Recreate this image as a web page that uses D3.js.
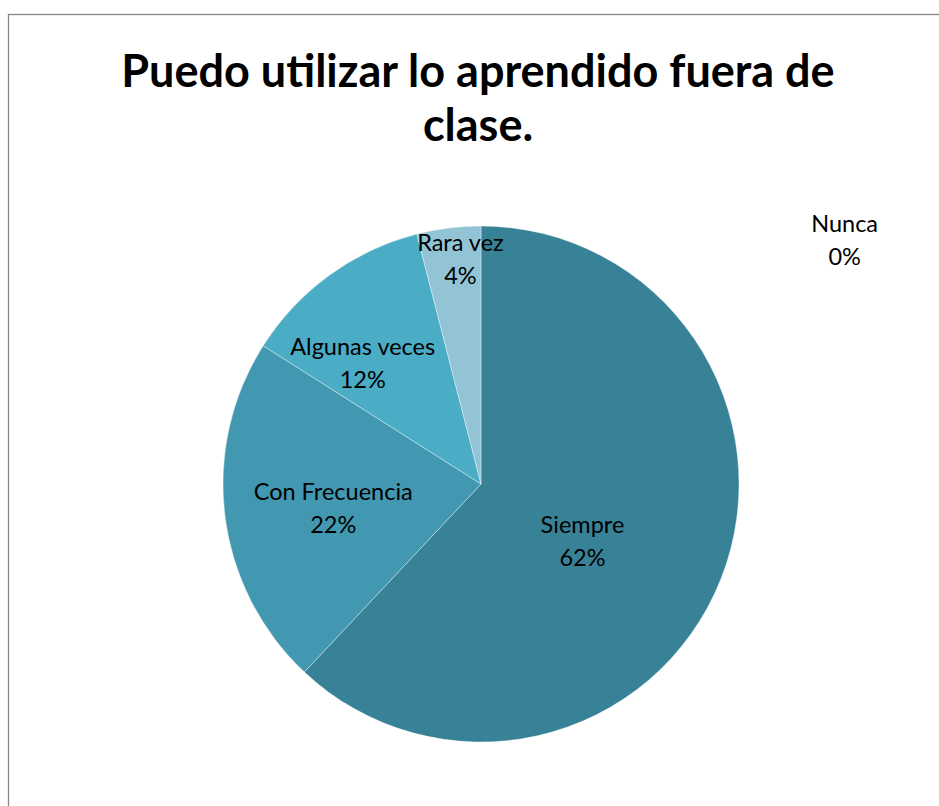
<!DOCTYPE html>
<html>
<head>
<meta charset="utf-8">
<script src="https://cdn.jsdelivr.net/npm/d3@7/dist/d3.min.js"></script>
<style>
  html, body { margin: 0; padding: 0; background: #fff; }
  svg { display: block; }
  text { font-family: Lato, "Open Sans", "DejaVu Sans", sans-serif; }
</style>
</head>
<body>
<script>
// Survey answers: "Puedo utilizar lo aprendido fuera de clase."
const categories = ["Siempre", "Con Frecuencia", "Algunas veces", "Rara vez", "Nunca"];
const percents = [62, 22, 12, 4, 0];
const sliceColors = ["#388297", "#4298B0", "#4BACC6", "#93C4D6", "#C4DDE7"];
const titleLines = ["Puedo utilizar lo aprendido fuera de", "clase."];

const W = 939, H = 806;
const cx = 481, cy = 484, R = 258;

// Label placement (fraction of radius, angle shift in degrees from slice middle)
const labelRadius = [0.45, 0.58, 0.66, 0.88, 1.7];
const labelShift = [7.5, -1.8, -8, 2, 56];

const svg = d3.select("body").append("svg")
  .attr("width", W).attr("height", H);

// Frame
svg.append("rect")
  .attr("x", 8.5).attr("y", 14.5)
  .attr("width", 1000).attr("height", 1000)
  .attr("fill", "none").attr("stroke", "#878787").attr("stroke-width", 1.3);

// Title
svg.append("text")
  .attr("x", 478).attr("y", 87)
  .attr("text-anchor", "middle")
  .attr("font-size", 45).attr("font-weight", "bold").attr("fill", "#000")
  .selectAll("tspan").data(titleLines).join("tspan")
  .attr("x", 478).attr("dy", (d, i) => i === 0 ? 0 : 54)
  .text(d => d);

const data = categories.map((c, i) => ({ name: c, value: percents[i], color: sliceColors[i], i }));

const pie = d3.pie().sort(null).value(d => d.value);
const arcs = pie(data);
const arc = d3.arc().innerRadius(0).outerRadius(R);

const g = svg.append("g").attr("transform", `translate(${cx},${cy})`);

g.selectAll("path").data(arcs.filter(a => a.data.value > 0)).join("path")
  .attr("d", arc)
  .attr("fill", d => d.data.color)
  .attr("stroke", "rgba(255,255,255,0.45)")
  .attr("stroke-width", 0.8);

// Labels: category name and percentage
const lab = g.selectAll("g.lab").data(arcs).join("g").attr("class", "lab")
  .attr("transform", d => {
    const mid = (d.startAngle + d.endAngle) / 2 + labelShift[d.data.i] * Math.PI / 180;
    const r = R * labelRadius[d.data.i];
    return `translate(${r * Math.sin(mid)},${-r * Math.cos(mid)})`;
  });

lab.append("text")
  .attr("text-anchor", "middle").attr("y", -7)
  .attr("font-size", 23.5).attr("fill", "#000")
  .text(d => d.data.name);
lab.append("text")
  .attr("text-anchor", "middle").attr("y", 26)
  .attr("font-size", 23.5).attr("fill", "#000")
  .text(d => d.data.value + "%");
</script>
</body>
</html>
